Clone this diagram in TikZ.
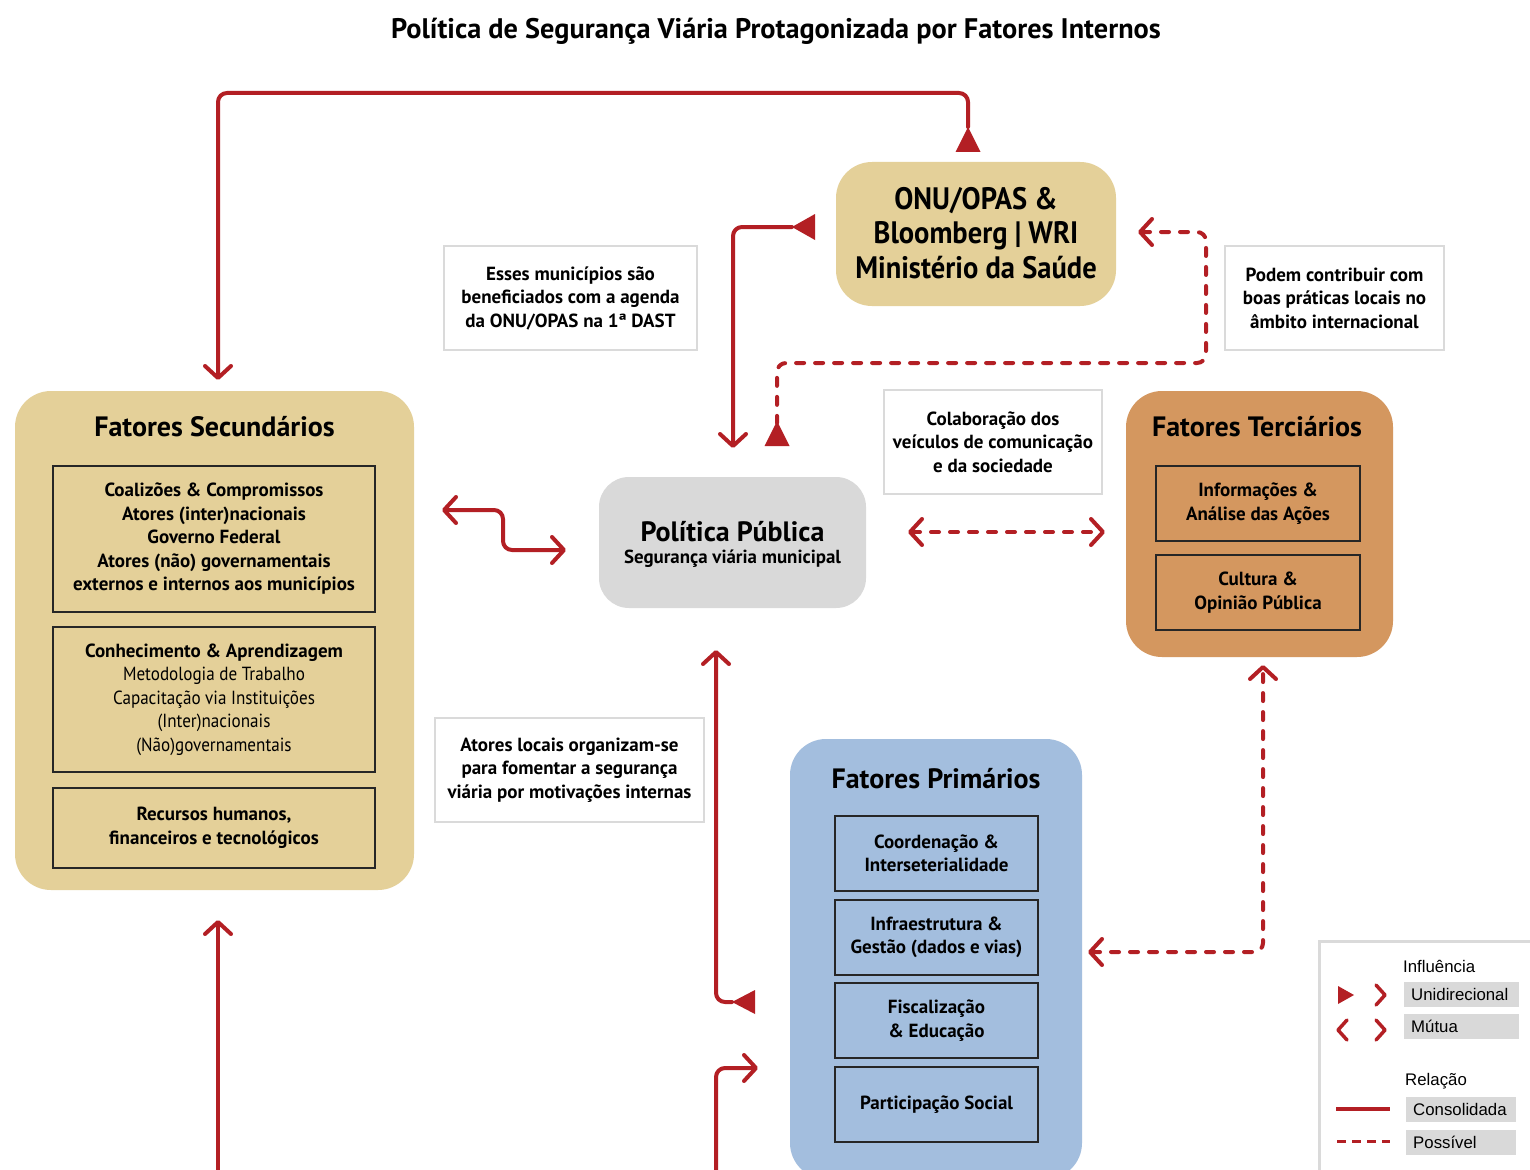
\documentclass[tikz,border=0pt]{standalone}
\usepackage{fontspec}
\setmainfont{PT Sans}
\newfontfamily\condfont[FakeStretch=0.92]{PT Sans}
\newfontfamily\narrowfont[FakeStretch=0.9]{PT Sans}
\newfontfamily\legfont{Liberation Sans}
\usetikzlibrary{arrows.meta,calc}
\definecolor{myred}{HTML}{B31F24}
\definecolor{tan}{HTML}{E4D099}
\definecolor{orng}{HTML}{D4975F}
\definecolor{blu}{HTML}{A3BEDE}
\definecolor{gry}{HTML}{D9D9D9}
\definecolor{notegray}{HTML}{DADADA}
\tikzset{
  chev/.tip={Straight Barb[length=12pt,width=26pt,line width=4pt,round]},
  bigbox/.style={rounded corners=36pt, inner sep=0pt, draw=none},
  inbox/.style={draw=black!85, line width=1.6pt, inner sep=0pt, align=center,
    font=\bfseries\fontsize{19}{23.5}\selectfont},
  note/.style={draw=notegray, line width=2.5pt, fill=white, align=center, inner sep=0pt,
    font=\bfseries\fontsize{19}{23.5}\selectfont},
  boxtitle/.style={font=\bfseries\fontsize{28}{32}\selectfont, inner sep=0pt},
  conn/.style={draw=myred, line width=4pt, line cap=round, line join=round, rounded corners=9pt},
  poss/.style={conn, dash pattern=on 8pt off 11pt},
  legbox/.style={fill=gry, minimum width=115pt, minimum height=25pt, inner sep=0pt,
    font=\legfont\fontsize{16.8}{18}\selectfont, text width=107pt, align=left},
  legtxt/.style={font=\legfont\fontsize{16.8}{18}\selectfont, inner sep=0pt},
}
\begin{document}
\begin{tikzpicture}[x=1pt,y={(0pt,-1pt)}]
\useasboundingbox (0,0) rectangle (1530,1169);
\clip (0,0) rectangle (1530,1169);
\fill[white] (0,0) rectangle (1530,1169);

% title
\node[font=\bfseries\fontsize{28.3}{30}\selectfont, inner sep=0pt] (title) at (776,31)
  {Política de Segurança Viária Protagonizada por Fatores Internos};

% ONU
\node[bigbox, fill=tan, minimum width=280pt, minimum height=144pt] (onu) at (976,234) {};
\node[align=center, inner sep=0pt, font=\condfont\bfseries\fontsize{31}{34.5}\selectfont] (onutxt) at (976,233)
  {ONU/OPAS \&\\ Bloomberg | WRI\\ Ministério da Saúde};

% notes
\node[note, minimum width=253pt, minimum height=104pt] (note1) at (570.5,298)
  {Esses municípios são\\ beneficiados com a agenda\\ da ONU/OPAS na 1ª DAST};
\node[note, minimum width=219pt, minimum height=104pt] (note2) at (1334.5,298)
  {Podem contribuir com\\ boas práticas locais no\\ âmbito internacional};
\node[note, minimum width=218pt, minimum height=104pt] (note3) at (993,442)
  {Colaboração dos\\ veículos de comunicação\\ e da sociedade};
\node[note, minimum width=269pt, minimum height=104pt] (note4) at (569.5,770)
  {Atores locais organizam-se\\ para fomentar a segurança\\ viária por motivações internas};

% Secundarios
\node[bigbox, fill=tan, minimum width=399pt, minimum height=499pt] (sec) at (214.5,640.5) {};
\node[boxtitle] (sectitle) at (214.5,427) {Fatores Secundários};
\node[inbox, minimum width=322pt, minimum height=146pt] (sec1) at (214,539)
  {Coalizões \& Compromissos\\ Atores (inter)nacionais\\ Governo Federal\\ Atores (não) governamentais\\ externos e internos aos municípios};
\node[inbox, minimum width=322pt, minimum height=145pt] (sec2) at (214,699.5)
  {Conhecimento \& Aprendizagem\\ \narrowfont\mdseries Metodologia de Trabalho\\ \narrowfont\mdseries Capacitação via Instituições\\ \narrowfont\mdseries (Inter)nacionais\\ \narrowfont\mdseries (Não)governamentais};
\node[inbox, minimum width=322pt, minimum height=80pt] (sec3) at (214,828)
  {Recursos humanos,\\ financeiros e tecnológicos};

% Politica publica
\node[bigbox, rounded corners=30pt, fill=gry, minimum width=267pt, minimum height=131pt] (pol) at (732.5,542.5) {};
\node[boxtitle] (poltitle) at (732.5,532) {Política Pública};
\node[font=\bfseries\fontsize{18.9}{22}\selectfont, inner sep=0pt] (polsub) at (732.5,558.5) {Segurança viária municipal};

% Terciarios
\node[bigbox, fill=orng, minimum width=267pt, minimum height=266pt] (ter) at (1259.5,524) {};
\node[boxtitle] (tertitle) at (1257,427) {Fatores Terciários};
\node[inbox, minimum width=204pt, minimum height=75pt] (ter1) at (1258,503.5)
  {Informações \&\\ Análise das Ações};
\node[inbox, minimum width=204pt, minimum height=75pt] (ter2) at (1258,592.5)
  {Cultura \&\\ Opinião Pública};

% Primarios
\node[bigbox, fill=blu, minimum width=292pt, minimum height=440pt] (pri) at (936,959) {};
\node[boxtitle] (prititle) at (936,779) {Fatores Primários};
\node[inbox, minimum width=203pt, minimum height=75pt] (pri1) at (936.5,853.5)
  {Coordenação \&\\ Interseterialidade};
\node[inbox, minimum width=203pt, minimum height=75pt] (pri2) at (936.5,937.5)
  {Infraestrutura \&\\ Gestão (dados e vias)};
\node[inbox, minimum width=203pt, minimum height=75pt] (pri3) at (936.5,1020.5)
  {Fiscalização\\ \& Educação};
\node[inbox, minimum width=203pt, minimum height=75pt] (pri4) at (936.5,1104.5)
  {Participação Social};

% connector end points
\coordinate (a1) at (968,127);
\coordinate (a1e) at (218,380);
\coordinate (a2) at (792,227);
\coordinate (a2e) at (733,448);
\coordinate (a3) at (1138,232);
\coordinate (a3e) at (777,421);
\coordinate (a4) at (442,510);
\coordinate (a4e) at (566,550);
\coordinate (a5) at (908,532);
\coordinate (a5e) at (1105,532);
\coordinate (a6) at (716,650);
\coordinate (a6e) at (732,1002);
\coordinate (a7) at (716,1180);
\coordinate (a7e) at (758,1068);
\coordinate (a8) at (218,1180);
\coordinate (a8e) at (218,920);
\coordinate (a9) at (1088,952);
\coordinate (a9e) at (1263,665);

% 1: ONU -> Secundarios
\draw[conn,-{chev}] (a1) -- (968,93) -- (218,93) -- (a1e);
\fill[myred] (a1) -- ($(a1)+(12.5,25)$) -- ($(a1)+(-12.5,25)$) -- cycle;
% 2: ONU -> Politica
\draw[conn,-{chev}] (a2) -- (733,227) -- (a2e);
\fill[myred] (a2) -- ($(a2)+(23,-13)$) -- ($(a2)+(23,13)$) -- cycle;
% 3: Politica .. ONU (possible)
\draw[poss,{chev}-] (a3) -- (1206,232) -- (1206,363) -- (777,363) -- ($(a3e)+(0,2)$);
\fill[myred] (a3e) -- ($(a3e)+(12.5,25)$) -- ($(a3e)+(-12.5,25)$) -- cycle;
% 4: Secundarios <-> Politica
\draw[conn,{chev}-{chev}] (a4) -- (503,510) -- (503,550) -- (a4e);
% 5: Politica <-> Terciarios
\draw[poss,{chev}-{chev}] (a5) -- (a5e);
% 6: Primarios -> Politica
\draw[conn,{chev}-] (a6) -- (716,1002) -- (a6e);
\fill[myred] (a6e) -- ($(a6e)+(23,-12)$) -- ($(a6e)+(23,12)$) -- cycle;
% 7: bottom -> Primarios
\draw[conn,-{chev}] (a7) -- (716,1068) -- (a7e);
% 8: bottom -> Secundarios
\draw[conn,-{chev}] (a8) -- (a8e);
% 9: Primarios <-> Terciarios
\draw[poss,{chev}-{chev}] (a9) -- (1263,952) -- (a9e);

% legend
\node[draw=notegray, line width=3pt, fill=white, minimum width=230pt, minimum height=240pt, inner sep=0pt] (leg) at (1434,1061) {};
\node[legtxt, anchor=west] (l1) at (1403,966) {Influência};
\node[legbox, anchor=west] (l2) at (1404,994.5) {\hspace*{3pt}Unidirecional};
\node[legbox, anchor=west] (l3) at (1404,1026.5) {\hspace*{3pt}Mútua};
\node[legtxt, anchor=west] (l4) at (1405,1081) {Relação};
\node[legbox, anchor=west, minimum width=110pt, text width=102pt] (l5) at (1406,1109.5) {\hspace*{3pt}Consolidada};
\node[legbox, anchor=west, minimum width=110pt, text width=102pt] (l6) at (1406,1142) {\hspace*{3pt}Possível};
\fill[myred] (1338,986) -- (1354,995) -- (1338,1004) -- cycle;
\draw[myred, line width=3.5pt, line cap=round, line join=round] (1376,985) -- (1385,995) -- (1376,1005);
\draw[myred, line width=3.5pt, line cap=round, line join=round] (1347,1020) -- (1338,1030) -- (1347,1040);
\draw[myred, line width=3.5pt, line cap=round, line join=round] (1376,1020) -- (1385,1030) -- (1376,1040);
\draw[myred, line width=3.5pt] (1336,1109) -- (1390,1109);
\draw[myred, line width=3pt, dash pattern=on 9pt off 6pt] (1337,1141) -- (1390,1141);
\end{tikzpicture}
\end{document}
